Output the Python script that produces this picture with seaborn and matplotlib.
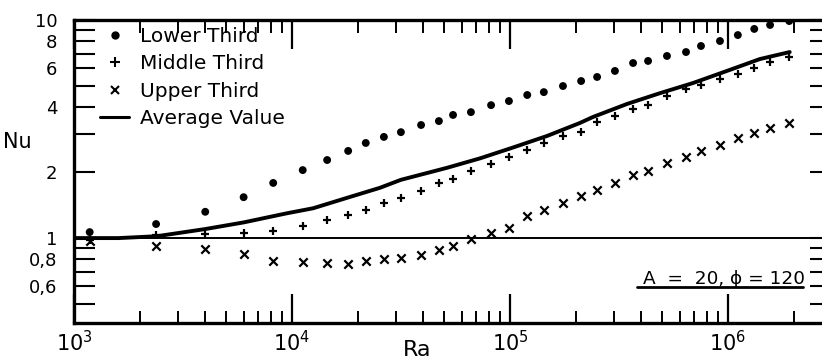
import numpy as np
import pandas as pd
import matplotlib
matplotlib.use("Agg")
import matplotlib.pyplot as plt
from matplotlib.lines import Line2D
from matplotlib.ticker import LogLocator, FixedLocator, FixedFormatter, NullFormatter
import seaborn as sns

# ---------------- data ----------------
ra = [1.18e3, 2.38e3, 4.0e3, 6.0e3, 8.2e3, 1.12e4, 1.45e4, 1.81e4, 2.18e4, 2.64e4,
      3.16e4, 3.91e4, 4.72e4, 5.48e4, 6.62e4, 8.19e4, 9.89e4, 1.20e5, 1.43e5, 1.75e5,
      2.12e5, 2.51e5, 3.03e5, 3.67e5, 4.30e5, 5.25e5, 6.42e5, 7.52e5, 9.19e5, 1.11e6,
      1.32e6, 1.56e6, 1.91e6]

nu_lower = [1.065, 1.16, 1.32, 1.54, 1.79, 2.05, 2.28, 2.51, 2.73, 2.91,
            3.06, 3.30, 3.44, 3.67, 3.78, 4.07, 4.25, 4.53, 4.67, 4.98,
            5.25, 5.48, 5.84, 6.35, 6.49, 6.84, 7.13, 7.60, 8.01, 8.53,
            9.10, 9.49, 9.89]

nu_middle = [0.98, 1.03, 1.04, 1.05, 1.08, 1.135, 1.21, 1.275, 1.34, 1.45,
             1.53, 1.64, 1.79, 1.87, 2.03, 2.19, 2.35, 2.53, 2.73, 2.94,
             3.06, 3.40, 3.63, 3.91, 4.07, 4.48, 4.82, 5.03, 5.36, 5.65,
             6.02, 6.42, 6.77]

nu_upper = [0.969, 0.919, 0.89, 0.845, 0.784, 0.776, 0.768, 0.76, 0.784, 0.80,
            0.81, 0.836, 0.881, 0.919, 0.989, 1.054, 1.111, 1.262, 1.344, 1.447,
            1.558, 1.66, 1.788, 1.945, 2.03, 2.21, 2.35, 2.51, 2.67, 2.875,
            3.03, 3.20, 3.37]

avg_ra = [1.0e3, 1.6e3, 2.4e3, 4.0e3, 6.0e3, 9.5e3, 1.25e4, 1.79e4, 2.53e4, 3.16e4,
          5.14e4, 7.28e4, 1.03e5, 1.48e5, 2.09e5, 2.40e5, 3.44e5, 4.88e5, 6.91e5,
          9.89e5, 1.40e6, 1.92e6]
avg_nu = [1.0, 1.0, 1.02, 1.10, 1.18, 1.30, 1.37, 1.53, 1.70, 1.85,
          2.10, 2.32, 2.60, 2.94, 3.37, 3.59, 4.12, 4.62, 5.14,
          5.84, 6.62, 7.13]

series_labels = ["Lower Third", "Middle Third", "Upper Third", "Average Value"]

x_major = [1e3, 1e4, 1e5, 1e6]
x_major_labels = [r"$10^3$", r"$10^4$", r"$10^5$", r"$10^6$"]
y_ticks = [0.5, 0.6, 0.7, 0.8, 0.9, 1, 2, 3, 4, 5, 6, 7, 8, 9, 10]
y_tick_labels = ["", "0,6", "", "0,8", "", "1", "2", "", "4", "", "6", "", "8", "", "10"]
annotation_text = "A  =  20, ϕ = 120"

# ---------------- figure ----------------
sns.set_style("ticks", rc={"text.color": "black", "axes.labelcolor": "black",
                           "xtick.color": "black", "ytick.color": "black",
                           "axes.edgecolor": "black"})
plt.rcParams["font.family"] = ["DejaVu Sans"]

W, H = 822, 363
fig = plt.figure(figsize=(W / 100, H / 100), dpi=100)
ax = fig.add_axes([74 / W, (H - 323) / H, (W - 74) / W, (323 - 20) / H])

df = pd.DataFrame({"Ra": ra, "lower": nu_lower, "middle": nu_middle, "upper": nu_upper})
avg_df = pd.DataFrame({"Ra": avg_ra, "Nu": avg_nu})

ax.set_xscale("log")
ax.set_yscale("log")

ax.axhline(1.0, color="black", lw=1.4, zorder=1)

sns.lineplot(data=avg_df, x="Ra", y="Nu", ax=ax, color="black", lw=2.8, zorder=3,
             sort=True, estimator=None)
sns.scatterplot(data=df, x="Ra", y="lower", ax=ax, marker="o", s=32, color="black",
                edgecolor="none", zorder=4)
sns.scatterplot(data=df, x="Ra", y="middle", ax=ax, marker="+", s=40, color="black",
                linewidth=1.6, zorder=4)
sns.scatterplot(data=df, x="Ra", y="upper", ax=ax, marker="x", s=36, color="black",
                linewidth=1.6, zorder=4)

ax.set_xlim(1e3, 2.70e6)
ax.set_ylim(0.408, 10)

# spines
for side in ["left", "bottom", "top"]:
    ax.spines[side].set_linewidth(2.4)
    ax.spines[side].set_color("black")
ax.spines["right"].set_visible(False)

# x ticks
ax.xaxis.set_major_locator(FixedLocator(x_major))
ax.xaxis.set_major_formatter(FixedFormatter(x_major_labels))
ax.xaxis.set_minor_locator(LogLocator(base=10, subs=np.arange(2, 10), numticks=30))
ax.xaxis.set_minor_formatter(NullFormatter())
ax.tick_params(axis="x", which="major", direction="in", length=21, width=1.6,
               top=True, bottom=True, labelsize=15, pad=5, colors="black")
ax.tick_params(axis="x", which="minor", direction="in", length=9, width=1.4,
               top=True, bottom=True)

# y ticks
ax.yaxis.set_major_locator(FixedLocator(y_ticks))
ax.yaxis.set_major_formatter(FixedFormatter(y_tick_labels))
ax.yaxis.set_minor_locator(FixedLocator([]))
ax.tick_params(axis="y", which="major", direction="in", length=15, width=1.5,
               left=True, right=False, labelsize=13, pad=12, colors="black")

# right-side ticks
sec = ax.secondary_yaxis("right")
sec.set_yscale("log")
sec.yaxis.set_major_locator(FixedLocator(y_ticks))
sec.yaxis.set_major_formatter(NullFormatter())
sec.yaxis.set_minor_locator(FixedLocator([]))
sec.tick_params(axis="y", which="major", direction="in", length=9, width=1.5)
sec.spines["right"].set_visible(False)

# axis labels
ax.set_xlabel("Ra", fontsize=16)
ax.xaxis.set_label_coords((417 - 74) / 748, -(350 - 323) / 303)
ax.xaxis.label.set_va("center")
ax.set_ylabel("Nu", fontsize=15, rotation=0)
ax.yaxis.set_label_coords((17 - 74) / 748, (323 - 142) / 303)
ax.yaxis.label.set_va("center")
ax.yaxis.label.set_ha("center")

# legend
handles = [
    Line2D([], [], ls="none", marker="o", ms=6, color="black", mec="none"),
    Line2D([], [], ls="none", marker="+", ms=7, mew=1.5, color="black"),
    Line2D([], [], ls="none", marker="x", ms=6, mew=1.5, color="black"),
    Line2D([], [], ls="-", lw=2.2, color="black"),
]
leg = ax.legend(handles, series_labels, loc="upper left",
                bbox_to_anchor=((100 - 74) / 748, 1 - (27 - 20) / 303),
                frameon=False, fontsize=14.5, handlelength=1.45, handletextpad=0.55,
                labelspacing=0.42, borderpad=0, borderaxespad=0)
for t in leg.get_texts():
    t.set_color("black")

# annotation with underline
ax.text((805 - 74) / 748, (323 - 279) / 303, annotation_text, transform=ax.transAxes,
        ha="right", va="center", fontsize=13.3, color="black")
ax.add_line(Line2D([(637 - 74) / 748, (803 - 74) / 748], [(323 - 287) / 303] * 2,
                   transform=ax.transAxes, color="black", lw=2.0, clip_on=False))

fig.savefig("out.png", dpi=100, facecolor="white")
